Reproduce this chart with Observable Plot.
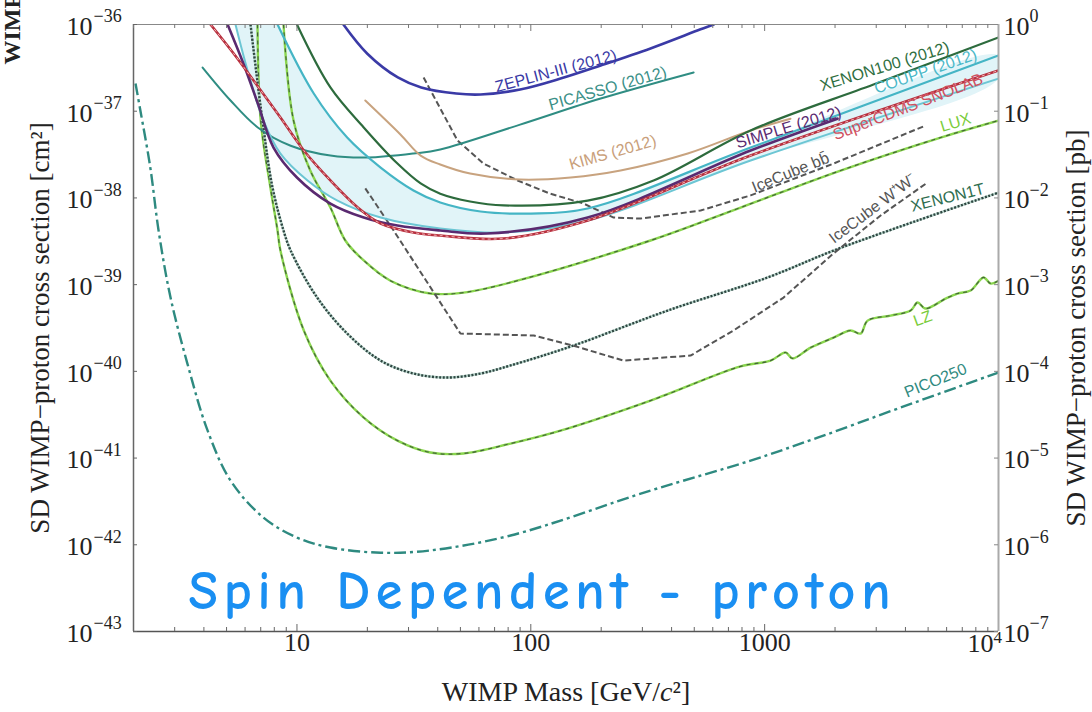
<!DOCTYPE html>
<html><head><meta charset="utf-8">
<script src="https://cdn.jsdelivr.net/npm/d3@7"></script>
<script src="https://cdn.jsdelivr.net/npm/@observablehq/plot@0.6"></script>
<style>html,body{margin:0;padding:0;background:#fff;} #chart{width:1092px;height:712px;}</style>
</head><body><div id="chart"></div>
<script>
// ---- data: [WIMP mass (GeV/c^2), SD WIMP-proton cross section (cm^2)] ----
const zeplin = [[15.8,1.0e-36],[20,4.6e-37],[27,2.45e-37],[34,1.88e-37],[48,1.6e-37],[61,1.56e-37],[90,1.78e-37],[134,2.38e-37],[199,3.37e-37],[325,5.3e-37],[532,8.8e-37],[605,1.0e-36]];
const picasso = [[3.95,3.19e-37],[5.2,1.33e-37],[6.8,6.5e-38],[9.4,4.0e-38],[13.9,3.08e-38],[20,2.92e-38],[31.5,3.25e-38],[41,3.62e-38],[90,7.0e-38],[199,1.40e-37],[497,2.80e-37]];
const kims = [[19.6,1.33e-37],[27.7,5.4e-38],[33.8,3.08e-38],[41,2.43e-38],[55,1.91e-38],[90,1.63e-38],[148,1.72e-38],[242,2.07e-38],[469,3.25e-38],[871,6.0e-38],[1290,8.2e-38]];
const xenon100 = [[10,1.0e-36],[13.9,1.88e-37],[19.3,6.5e-38],[26.9,2.49e-38],[33.8,1.47e-38],[41,1.12e-38],[55,9.1e-39],[76.5,8.2e-39],[175,9.3e-39],[335,1.59e-38],[871,6.0e-38],[2920,2.03e-37],[10000,7.08e-37]];
const coupp = [[8.26,1.0e-36],[11.8,1.6e-37],[16.4,4.97e-38],[22.8,2.24e-38],[31.5,1.22e-38],[41,8.85e-39],[61,6.97e-39],[100,6.6e-39],[175,7.55e-39],[871,3.81e-38],[10000,4.39e-37]];
const bandLower = [[5.46,1.0e-36],[6.15,2.95e-37],[7.19,7.8e-38],[8.5,3.25e-38],[11.1,1.59e-38],[14.9,9.3e-39],[22.8,5.94e-39],[41,4.44e-39],[76.5,3.99e-39],[175,5.49e-39],[871,2.70e-38],[10000,2.38e-37]];
const simple = [[5.05,1.0e-36],[5.9,3.55e-37],[6.8,1.23e-37],[7.94,3.81e-38],[10,1.72e-38],[13.9,8.6e-39],[19.3,5.94e-39],[26.9,4.8e-39],[41,4.21e-39],[65,3.89e-39],[175,5.94e-39],[871,3.52e-38],[2050,8.2e-38]];
const supercdms = [[4.27,1.0e-36],[5.36,4.63e-37],[6.52,2.26e-37],[8.5,8.46e-38],[10.7,3.52e-38],[13.9,1.59e-38],[18.2,7.75e-39],[22.8,5.07e-39],[31.5,3.99e-39],[41,3.68e-39],[76.5,3.40e-39],[175,5.49e-39],[871,3.08e-38],[10000,2.95e-37]];
const lux = [[8.76,1.0e-36],[9.67,7.8e-38],[11.4,2.07e-38],[13.9,7.75e-39],[16.1,3.23e-39],[19.3,1.90e-39],[25.1,1.11e-39],[37.2,7.9e-40],[51.5,8.1e-40],[82,1.06e-39],[325,3.23e-39],[789,7.75e-39],[2113,2.07e-38],[5656,4.97e-38],[10000,7.81e-38]];
const lz = [[6.78,1.0e-36],[7.0,7.8e-38],[7.7,1.32e-38],[8.26,4.21e-39],[8.5,2.47e-39],[10.7,2.96e-40],[13.9,7.83e-41],[19.3,2.93e-41],[26.9,1.59e-41],[37.2,1.16e-41],[51.5,1.13e-41],[82,1.47e-41],[134,2.07e-41],[325,4.6e-41],[789,1.14e-40],[1060,1.33e-40],[1229,1.65e-40],[1316,1.41e-40],[1573,1.88e-40],[1972,2.45e-40],[2331,2.96e-40],[2573,2.73e-40],[2756,3.85e-40],[3457,4.40e-40],[4210,5.03e-40],[4508,6.22e-40],[4877,5.30e-40],[5943,6.91e-40],[6683,7.9e-40],[7600,8.55e-40],[8630,1.21e-39],[9255,1.03e-39],[10000,1.11e-39]];
const xenon1t = [[6.33,1.0e-36],[7.12,7.8e-38],[7.86,1.32e-38],[8.76,4.21e-39],[9.4,2.47e-39],[12.2,7.1e-40],[16.4,2.73e-40],[22.8,1.33e-40],[31.5,9.44e-41],[44,8.48e-41],[61,9.44e-41],[82,1.17e-40],[152,1.98e-40],[385,5.03e-40],[1030,1.21e-39],[1970,2.47e-39],[4500,5.49e-39],[10000,1.15e-38]];
const pico250 = [[2.04,2.09e-37],[2.14,1.02e-37],[2.36,2.24e-38],[2.56,4.21e-39],[2.88,7.1e-40],[3.40,1.23e-40],[4.15,2.07e-41],[5.2,5.5e-42],[7.19,2.06e-42],[10,1.21e-42],[13.9,9.3e-43],[22.8,8.1e-43],[37,8.6e-43],[82,1.28e-42],[325,4.22e-42],[871,9.35e-42],[1685,1.72e-41],[3811,3.82e-41],[10000,9.7e-41]];
const icecubeBB = [[34.8,2.45e-37],[48.6,4.59e-38],[62.8,2.49e-38],[87.8,1.59e-38],[121,1.12e-38],[168,8.62e-39],[226,5.94e-39],[295,5.78e-39],[532,7.16e-39],[871,1.07e-38],[1970,2.49e-38],[4880,6.84e-38]];
const icecubeWW = [[19.6,1.29e-38],[25.9,4.21e-39],[50,2.73e-40],[103,2.59e-40],[152,1.98e-40],[249,1.33e-40],[482,1.52e-40],[736,2.96e-40],[1205,7.1e-40],[1970,2.29e-39],[3133,6.27e-39],[4977,1.51e-38]];

// curve labels
const labelText  = ["ZEPLIN-III (2012)","PICASSO (2012)","KIMS (2012)","XENON100 (2012)","COUPP (2012)","SIMPLE (2012)","SuperCDMS SNOLAB","LUX","IceCube bb\u0304","IceCube W\u207AW\u207B","XENON1T","LZ","PICO250"];
const labelMass  = [128, 213, 224, 3260, 4877, 1266, 1972, 6556, 1291, 2895, 6060, 4738, 5383];
const labelSigma = [2.9e-37, 1.83e-37, 3.34e-38, 3.28e-37, 2.87e-37, 6.49e-38, 5.25e-38, 7.4e-38, 1.96e-38, 7.55e-39, 1.01e-38, 4.06e-40, 7.83e-41];

// ticks
const xTicks = [10, 100, 1000, 10000];
const xTickText = ["10", "100", "1000", "10"];
const xTickSup = ["", "", "", "4"];
const yTicks = [1e-36, 1e-37, 1e-38, 1e-39, 1e-40, 1e-41, 1e-42, 1e-43];
const yTickExp = ["\u221236","\u221237","\u221238","\u221239","\u221240","\u221241","\u221242","\u221243"];
const pbTickExp = ["0","\u22121","\u22122","\u22123","\u22124","\u22125","\u22126","\u22127"];

const xTitle = "WIMP Mass [GeV/c\u00B2]";
const yTitle = "SD WIMP\u2212proton cross section [cm\u00B2]";
const y2Title = "SD WIMP\u2212proton cross section [pb]";
const cutTitle = "WIMP\u2212nucleon";
const overlayText = "Spin Dependent - proton";

// ---- drawing ----
const W = 1092, H = 712, mL = 133, mR = 94, mT = 24, mB = 81;
const iW = W - mL - mR, iH = H - mT - mB;
const serif = "'Liberation Serif','Times New Roman',serif";
const sans = "'Liberation Sans',Arial,sans-serif";

const xMinor = [];
for (const d of [1, 10, 100, 1000]) for (let k = 2; k <= 9; k++) { const v = k * d; if (v >= 2 && v < 10000) xMinor.push(v); }
const xMajor = [10, 100, 1000];

const X = d => d[0], Y = d => d[1];
const marks = [];

// shaded band between COUPP curve and lower cyan curve
const bandOutline = coupp.concat(bandLower.slice().reverse());
marks.push(Plot.line(bandOutline, {x: X, y: Y, fill: "#e1f4f8", stroke: "none", curve: "catmull-rom", clip: true}));

function solid(data, stroke, w, curve = "catmull-rom") {
  marks.push(Plot.line(data, {x: X, y: Y, stroke, strokeWidth: w, curve, clip: true}));
}
function dashed(data, stroke, w, dash, curve = "catmull-rom") {
  marks.push(Plot.line(data, {x: X, y: Y, stroke, strokeWidth: w, strokeDasharray: dash, strokeLinecap: "butt", curve, clip: true}));
}

dashed(pico250, "#2e8a80", 2.4, "12,4,3,4");
solid(lz, "#8ad64e", 2.4); dashed(lz, "#44653a", 1.2, "4,4");
solid(xenon1t, "#b9d6cc", 2.4); dashed(xenon1t, "#2f4642", 2.4, "2,1.6");
solid(lux, "#8ad64e", 2.4); dashed(lux, "#44653a", 1.2, "4,4");
dashed(icecubeWW, "#555", 2, "6,3", "linear");
dashed(icecubeBB, "#555", 2, "6,3", "linear");
solid(picasso, "#2f8d83", 2);
solid(kims, "#c8a37f", 2);
solid(zeplin, "#3a3aa6", 2.6);
solid(xenon100, "#2d6b3d", 2.2);
solid(coupp, "#45b5c5", 2.2);
solid(bandLower, "#6cc6d4", 2);
solid(simple, "#5a2a70", 2.6);
solid(supercdms, "#b8303f", 2.6); dashed(supercdms, "#f2b8b8", 1, "3,3");

// curve labels
const labelColor = ["#3a3aa6","#3a9088","#c9a07a","#2e6e40","#4ab8c8","#5a2a70","#d05060","#7acc3a","#555","#555","#2e6e50","#7acc3a","#2f8a80"];
const labelAngle = [-15, -16, -16, -17, -19, -17, -21, -17, -22, -37, -14, -20, -22];
labelText.forEach((t, i) => {
  marks.push(Plot.text([t], {
    x: () => labelMass[i], y: () => labelSigma[i], text: d => d,
    rotate: labelAngle[i], fill: labelColor[i], fontSize: 16, fontFamily: sans,
    textAnchor: i === 6 ? "start" : "middle", clip: true
  }));
});

// frame
marks.push(Plot.ruleY([1e-36], {stroke: "#888", strokeWidth: 1.2}));
marks.push(Plot.ruleX([10000], {stroke: "#aaa", strokeWidth: 2}));
marks.push(Plot.ruleX([2], {stroke: "#666", strokeWidth: 1.5}));
marks.push(Plot.ruleY([1e-43], {stroke: "#555", strokeWidth: 1.5}));

// ticks (inward)
marks.push(Plot.ruleX(xMinor, {x: d => d, insetTop: iH - 4, stroke: "#666"}));
marks.push(Plot.ruleX(xMajor, {x: d => d, insetTop: iH - 7, stroke: "#666"}));
marks.push(Plot.ruleX(xMinor, {x: d => d, insetBottom: iH - 4, stroke: "#777"}));
marks.push(Plot.ruleX(xMajor, {x: d => d, insetBottom: iH - 7, stroke: "#777"}));
marks.push(Plot.ruleY(yTicks, {y: d => d, insetRight: iW - 4, stroke: "#666"}));
marks.push(Plot.ruleY(yTicks, {y: d => d, insetLeft: iW - 4, stroke: "#888"}));

// tick labels
const tickStyle = {fontFamily: serif, fill: "#222"};
marks.push(Plot.text(yTicks, {y: d => d, frameAnchor: "left", text: () => "10", textAnchor: "end", dx: -41, dy: 2, fontSize: 26, ...tickStyle}));
marks.push(Plot.text(yTicks, {y: d => d, frameAnchor: "left", text: (d, i) => yTickExp[i], textAnchor: "start", dx: -40, dy: -8, fontSize: 18, ...tickStyle}));
marks.push(Plot.text(yTicks, {y: d => d, frameAnchor: "right", text: () => "10", textAnchor: "start", dx: 5, dy: 2, fontSize: 26, ...tickStyle}));
marks.push(Plot.text(yTicks, {y: d => d, frameAnchor: "right", text: (d, i) => pbTickExp[i], textAnchor: "start", dx: 31, dy: -8, fontSize: 18, ...tickStyle}));
marks.push(Plot.text(xTicks, {filter: (d, i) => !xTickSup[i], x: d => d, frameAnchor: "bottom", text: (d, i) => xTickText[i], dy: 19, fontSize: 26, ...tickStyle}));
marks.push(Plot.text(xTicks, {filter: (d, i) => xTickSup[i], x: d => d, frameAnchor: "bottom", text: (d, i) => xTickText[i], textAnchor: "end", dx: -5, dy: 20, fontSize: 26, ...tickStyle}));
marks.push(Plot.text(xTicks, {filter: (d, i) => xTickSup[i], x: d => d, frameAnchor: "bottom", text: (d, i) => xTickSup[i], textAnchor: "start", dx: -5, dy: 11, fontSize: 17, ...tickStyle}));

// axis titles
marks.push(Plot.text([xTitle], {frameAnchor: "bottom", text: d => d, textAnchor: "middle", dy: 69, lineAnchor: "bottom", fontSize: 28, ...tickStyle}));
marks.push(Plot.text([yTitle], {frameAnchor: "left", text: d => d, textAnchor: "middle", rotate: -90, dx: -93, fontSize: 27, ...tickStyle}));
marks.push(Plot.text([y2Title], {frameAnchor: "right", text: d => d, textAnchor: "middle", rotate: -90, dx: 78, fontSize: 27, ...tickStyle}));
marks.push(Plot.text([cutTitle], {frameAnchor: "top-left", text: d => d, rotate: -90, textAnchor: "start", dx: -131, dy: 40, fontSize: 24, fontWeight: "bold", fontFamily: serif, fill: "#222"}));

// overlay title
marks.push(Plot.text([overlayText], {frameAnchor: "bottom", text: d => d, textAnchor: "middle", dx: -26.5, dy: -23, lineAnchor: "bottom", fontSize: 54, fontWeight: "bold", fill: "#1a8ff2", fontFamily: "'Comic Sans MS','Comic Neue','Open Sans',Lato,sans-serif"}));

const chart = Plot.plot({
  width: W, height: H,
  marginLeft: mL, marginRight: mR, marginTop: mT, marginBottom: mB,
  x: {type: "log", domain: [2, 10000], axis: null},
  y: {type: "log", domain: [1e-43, 1e-36], axis: null},
  style: {background: "#fff"},
  marks
});

// post-processing: italic c in the x title, width of the overlay text
chart.querySelectorAll("text").forEach(t => {
  if (t.textContent === xTitle) {
    t.textContent = "";
    const ns = "http://www.w3.org/2000/svg";
    t.append("WIMP Mass [GeV/");
    const c = document.createElementNS(ns, "tspan");
    c.setAttribute("font-style", "italic");
    c.textContent = "c";
    t.append(c);
    t.append("\u00B2]");
  } else if (t.textContent === overlayText) {
    t.setAttribute("textLength", "702");
    t.setAttribute("lengthAdjust", "spacing");
  }
});

document.getElementById("chart").append(chart);
</script></body></html>
